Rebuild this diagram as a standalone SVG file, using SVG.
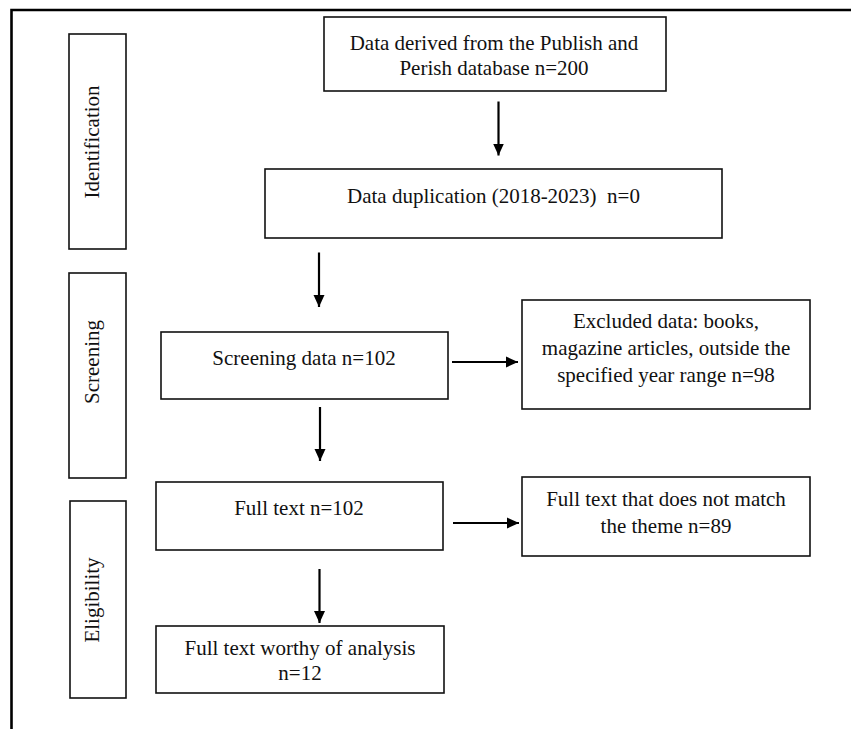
<svg xmlns="http://www.w3.org/2000/svg" width="851" height="729" viewBox="0 0 851 729">
<style>
  .box { fill: #ffffff; stroke: #111111; stroke-width: 1.6; }
  .t { font-family: "Liberation Serif", "Times New Roman", serif; font-size: 21px; fill: #111111; text-anchor: middle; white-space: pre; }
  .conn { stroke: #000000; stroke-width: 2.2; fill: none; }
  .frame { stroke: #000000; stroke-width: 2.6; fill: none; }
</style>
<defs>
  <marker id="arrow" viewBox="0 0 12 12" refX="12" refY="6" markerWidth="12" markerHeight="12" markerUnits="userSpaceOnUse" orient="auto">
    <path d="M0,0.5 L12,6 L0,11.5 z" fill="#000000"/>
  </marker>
</defs>
<rect width="851" height="729" fill="#ffffff"/>
<g id="frame">
  <path class="frame" d="M11.5,729 L11.5,10 L851,10"/>
</g>
<g id="stage-identification">
  <rect class="box" x="69" y="34" width="57" height="215"/>
  <text class="t" transform="translate(99,142) rotate(-90)">Identification</text>
</g>
<g id="stage-screening">
  <rect class="box" x="69" y="273" width="57" height="205"/>
  <text class="t" transform="translate(99,362) rotate(-90)">Screening</text>
</g>
<g id="stage-eligibility">
  <rect class="box" x="70" y="501" width="56" height="197"/>
  <text class="t" transform="translate(99,600) rotate(-90)">Eligibility</text>
</g>
<g id="n-source">
  <rect class="box" x="324" y="17" width="342" height="74"/>
  <text class="t" x="494" y="50">Data derived from the Publish and</text>
  <text class="t" x="494" y="75">Perish database n=200</text>
</g>
<g id="n-duplication">
  <rect class="box" x="265" y="169" width="457" height="69"/>
  <text class="t" x="493.5" y="203">Data duplication (2018-2023)  n=0</text>
</g>
<g id="n-screening">
  <rect class="box" x="161" y="332" width="287" height="67"/>
  <text class="t" x="304" y="365">Screening data n=102</text>
</g>
<g id="n-excluded">
  <rect class="box" x="522" y="300" width="288" height="109"/>
  <text class="t" x="666" y="328">Excluded data: books,</text>
  <text class="t" x="666" y="355">magazine articles, outside the</text>
  <text class="t" x="666" y="382">specified year range n=98</text>
</g>
<g id="n-fulltext">
  <rect class="box" x="156" y="482" width="287" height="68"/>
  <text class="t" x="299" y="515">Full text n=102</text>
</g>
<g id="n-nomatch">
  <rect class="box" x="522" y="477" width="288" height="79"/>
  <text class="t" x="666" y="506">Full text that does not match</text>
  <text class="t" x="666" y="533">the theme n=89</text>
</g>
<g id="n-worthy">
  <rect class="box" x="156" y="626" width="288" height="67"/>
  <text class="t" x="300" y="655">Full text worthy of analysis</text>
  <text class="t" x="300" y="680">n=12</text>
</g>
<g id="connectors">
  <line class="conn" x1="498.5" y1="101.5" x2="498.5" y2="155.5" marker-end="url(#arrow)"/>
  <line class="conn" x1="319" y1="252.5" x2="319" y2="307" marker-end="url(#arrow)"/>
  <line class="conn" x1="452" y1="362" x2="518" y2="362" marker-end="url(#arrow)"/>
  <line class="conn" x1="320" y1="407" x2="320" y2="461" marker-end="url(#arrow)"/>
  <line class="conn" x1="453" y1="523" x2="519" y2="523" marker-end="url(#arrow)"/>
  <line class="conn" x1="319.5" y1="569" x2="319.5" y2="623" marker-end="url(#arrow)"/>
</g>
</svg>
